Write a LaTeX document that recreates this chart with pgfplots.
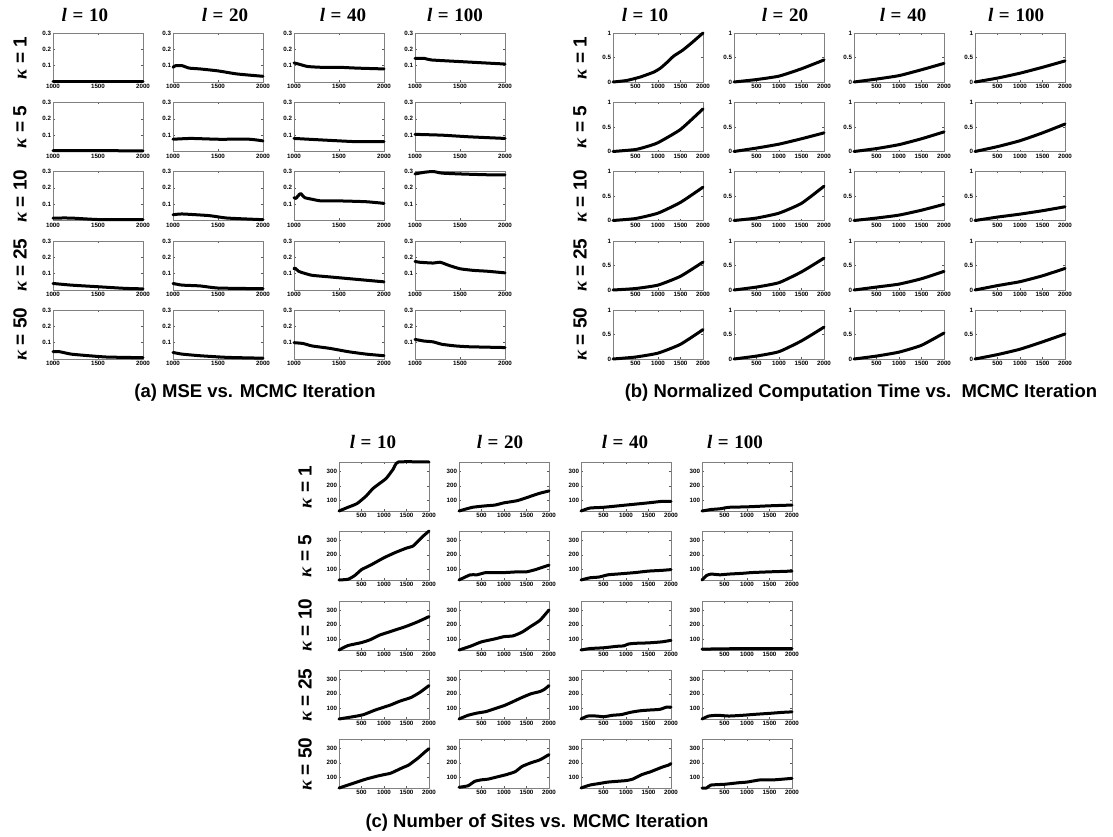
\documentclass[border=0pt]{standalone}
\usepackage{fontspec}
\setmainfont{Liberation Sans}
\newfontfamily\serif{Liberation Serif}
\usepackage{pgfplots}
\pgfplotsset{compat=1.18}
\pgfplotsset{
  base/.style={anchor=north west, scale only axis, width=90pt, height=49pt, clip=false,
    axis line style={gray, line width=0.5pt}, tick style={gray!70!black, line width=0.4pt},
    tick align=inside, major tick length=2pt,
    xtick pos=both, ytick pos=both, xticklabel pos=lower, yticklabel pos=left,
    ticklabel style={font=\fontsize{6.2}{6.5}\selectfont\bfseries},
    /pgf/number format/assume math mode=true,
    xticklabel style={yshift=1pt}, yticklabel style={xshift=1.5pt}},
  pa/.style={base, xmin=1000, xmax=2000, ymin=0, ymax=0.3,
    xtick={1000,1500,2000}, xticklabels={1000,1500,2000},
    ytick={0.1,0.2,0.3}, yticklabels={0.1,0.2,0.3}},
  pb/.style={base, xmin=0, xmax=2000, ymin=0, ymax=1,
    xtick={500,1000,1500,2000}, xticklabels={500,1000,1500,2000},
    ytick={0,0.5,1}, yticklabels={0,0.5,1}},
  pc/.style={base, xmin=0, xmax=2000, ymin=30, ymax=360,
    xtick={500,1000,1500,2000}, xticklabels={500,1000,1500,2000},
    ytick={100,200,300}, yticklabels={100,200,300}},
  curve/.style={black, line width=3pt, line join=round, line cap=round, smooth, tension=0.3, mark=none}
}
\newcommand{\SP}[4]{\begin{axis}[#1, at={(#2pt,-#3pt)}]\addplot[curve] coordinates {#4};\end{axis}}
\newcommand{\coltitle}[3]{\node at (#1pt,-#2pt) {\fontsize{19}{19}\selectfont\serif\bfseries{\itshape l}\hspace{0.3em}=\hspace{0.3em}#3};}
\newcommand{\rowlabel}[3]{\node[rotate=90] at (#1pt,-#2pt) {\fontsize{19}{19}\selectfont\bfseries{\serif\itshape κ} = #3};}
\begin{document}
\begin{tikzpicture}
\useasboundingbox (0,0) rectangle (1113pt,-837pt);
% ---------- titles ----------
\coltitle{85}{15}{10}\coltitle{225}{15}{20}\coltitle{343}{15}{40}\coltitle{455}{15}{100}
\coltitle{645}{15}{10}\coltitle{785}{15}{20}\coltitle{903}{15}{40}\coltitle{1016}{15}{100}
\coltitle{373}{442}{10}\coltitle{500}{442}{20}\coltitle{625}{442}{40}\coltitle{735}{442}{100}
\rowlabel{20}{58}{1}\rowlabel{20}{127}{5}\rowlabel{20}{196}{10}\rowlabel{20}{265}{25}\rowlabel{20}{334}{50}
\rowlabel{580}{58}{1}\rowlabel{580}{127}{5}\rowlabel{580}{196}{10}\rowlabel{580}{265}{25}\rowlabel{580}{334}{50}
\rowlabel{305}{487}{1}\rowlabel{305}{556}{5}\rowlabel{305}{625}{10}\rowlabel{305}{695}{25}\rowlabel{305}{764}{50}
\node at (255pt,-393pt) {\fontsize{18.5}{19}\selectfont\bfseries (a) MSE vs. MCMC Iteration};
\node at (861pt,-393pt) {\fontsize{18.5}{19}\selectfont\bfseries (b) Normalized Computation Time vs.\ \ MCMC Iteration};
\node at (537pt,-823pt) {\fontsize{18.5}{19}\selectfont\bfseries (c) Number of Sites vs. MCMC Iteration};
% ---------- (a) MSE ----------
\SP{pa}{53}{33}{(1000,0.005)(1500,0.005)(2000,0.005)}
\SP{pa}{173}{33}{(1000,0.09)(1030,0.1)(1100,0.1)(1180,0.085)(1300,0.08)(1500,0.068)(1700,0.05)(1850,0.042)(2000,0.035)}
\SP{pa}{294}{33}{(1000,0.117)(1050,0.11)(1150,0.095)(1300,0.09)(1500,0.09)(1700,0.085)(2000,0.08)}
\SP{pa}{415}{33}{(1000,0.145)(1100,0.145)(1180,0.135)(1500,0.125)(2000,0.11)}
\SP{pa}{53}{102.5}{(1000,0.005)(1500,0.005)(2000,0.004)}
\SP{pa}{173}{102.5}{(1000,0.075)(1200,0.08)(1500,0.075)(1850,0.075)(2000,0.065)}
\SP{pa}{294}{102.5}{(1000,0.08)(1400,0.068)(1700,0.06)(2000,0.06)}
\SP{pa}{415}{102.5}{(1000,0.105)(1300,0.1)(1600,0.09)(2000,0.08)}
\SP{pa}{53}{171.5}{(1000,0.015)(1200,0.015)(1500,0.006)(2000,0.005)}
\SP{pa}{173}{171.5}{(1000,0.035)(1100,0.04)(1400,0.03)(1600,0.015)(2000,0.005)}
\SP{pa}{294}{171.5}{(1000,0.14)(1020,0.135)(1060,0.16)(1075,0.165)(1120,0.14)(1200,0.13)(1300,0.12)(1500,0.12)(1800,0.115)(2000,0.105)}
\SP{pa}{415}{171.5}{(1000,0.285)(1100,0.295)(1200,0.3)(1300,0.29)(1500,0.285)(1800,0.28)(2000,0.28)}
\SP{pa}{53}{241}{(1000,0.04)(1200,0.03)(1500,0.02)(1800,0.01)(2000,0.007)}
\SP{pa}{173}{241}{(1000,0.04)(1100,0.03)(1300,0.025)(1500,0.012)(2000,0.008)}
\SP{pa}{294}{241}{(1000,0.13)(1010,0.135)(1050,0.115)(1100,0.105)(1200,0.09)(1400,0.08)(1600,0.07)(1800,0.06)(2000,0.05)}
\SP{pa}{415}{241}{(1000,0.175)(1050,0.17)(1200,0.165)(1280,0.17)(1380,0.15)(1500,0.13)(1650,0.12)(1800,0.115)(2000,0.105)}
\SP{pa}{53}{310}{(1000,0.045)(1070,0.045)(1200,0.03)(1400,0.02)(1600,0.012)(2000,0.008)}
\SP{pa}{173}{310}{(1000,0.04)(1100,0.03)(1300,0.02)(1600,0.01)(2000,0.005)}
\SP{pa}{294}{310}{(1000,0.1)(1100,0.095)(1200,0.08)(1400,0.065)(1600,0.045)(1800,0.03)(2000,0.02)}
\SP{pa}{415}{310}{(1000,0.12)(1100,0.11)(1200,0.105)(1300,0.09)(1450,0.08)(1600,0.075)(2000,0.07)}
% ---------- (b) time ----------
\SP{pb}{613}{33}{(0,0)(300,0.03)(600,0.1)(900,0.2)(1050,0.28)(1200,0.4)(1350,0.53)(1550,0.65)(1750,0.8)(2000,1.0)}
\SP{pb}{734}{33}{(0,0)(500,0.05)(1000,0.12)(1500,0.27)(2000,0.45)}
\SP{pb}{854}{33}{(0,0)(500,0.06)(1000,0.13)(1500,0.25)(2000,0.38)}
\SP{pb}{975}{33}{(0,0)(500,0.08)(1000,0.18)(1500,0.3)(2000,0.43)}
\SP{pb}{613}{102.5}{(0,0)(500,0.04)(750,0.1)(1000,0.18)(1500,0.45)(2000,0.87)}
\SP{pb}{734}{102.5}{(0,0)(500,0.07)(1000,0.15)(1500,0.26)(2000,0.38)}
\SP{pb}{854}{102.5}{(0,0)(500,0.06)(1000,0.14)(1500,0.26)(2000,0.4)}
\SP{pb}{975}{102.5}{(0,0)(500,0.1)(1000,0.22)(1500,0.38)(2000,0.56)}
\SP{pb}{613}{171.5}{(0,0)(500,0.04)(1000,0.15)(1500,0.37)(2000,0.68)}
\SP{pb}{734}{171.5}{(0,0)(500,0.05)(1000,0.15)(1500,0.35)(2000,0.7)}
\SP{pb}{854}{171.5}{(0,0)(500,0.05)(1000,0.11)(1500,0.21)(2000,0.33)}
\SP{pb}{975}{171.5}{(0,0)(500,0.07)(1000,0.13)(1500,0.2)(2000,0.28)}
\SP{pb}{613}{241}{(0,0)(500,0.03)(1000,0.1)(1500,0.28)(2000,0.57)}
\SP{pb}{734}{241}{(0,0)(500,0.06)(1000,0.15)(1500,0.37)(2000,0.65)}
\SP{pb}{854}{241}{(0,0)(500,0.06)(1000,0.12)(1500,0.23)(2000,0.38)}
\SP{pb}{975}{241}{(0,0)(500,0.09)(1000,0.17)(1500,0.29)(2000,0.44)}
\SP{pb}{613}{310}{(0,0)(500,0.04)(1000,0.12)(1500,0.3)(2000,0.6)}
\SP{pb}{734}{310}{(0,0)(500,0.06)(1000,0.15)(1500,0.37)(2000,0.65)}
\SP{pb}{854}{310}{(0,0)(500,0.06)(1000,0.14)(1500,0.28)(2000,0.53)}
\SP{pb}{975}{310}{(0,0)(500,0.09)(1000,0.2)(1500,0.35)(2000,0.51)}
% ---------- (c) sites ----------
\SP{pc}{339}{462}{(0,30)(200,55)(400,80)(600,130)(750,180)(900,215)(1050,250)(1200,310)(1320,360)(2000,360)}
\SP{pc}{459}{462}{(0,30)(300,55)(600,65)(800,70)(1000,85)(1300,100)(1600,130)(1800,150)(2000,165)}
\SP{pc}{581}{462}{(0,30)(200,50)(500,55)(1000,70)(1500,85)(1800,95)(2000,95)}
\SP{pc}{702}{462}{(0,30)(200,40)(400,45)(600,55)(1000,58)(1500,65)(2000,70)}
\SP{pc}{339}{531}{(0,30)(200,35)(350,60)(500,100)(700,130)(1000,180)(1250,215)(1500,245)(1650,260)(1850,320)(2000,360)}
\SP{pc}{459}{531}{(0,30)(250,65)(400,65)(600,80)(1000,80)(1300,85)(1500,85)(1700,100)(1950,125)(2000,130)}
\SP{pc}{581}{531}{(0,30)(200,45)(400,50)(600,65)(800,70)(1200,80)(1500,90)(1800,95)(2000,100)}
\SP{pc}{702}{531}{(0,30)(100,60)(200,70)(400,65)(600,70)(900,75)(1100,80)(1500,85)(2000,90)}
\SP{pc}{339}{601}{(0,30)(200,60)(500,80)(700,100)(900,130)(1100,150)(1200,160)(1500,190)(1750,220)(2000,255)}
\SP{pc}{459}{601}{(0,30)(250,55)(500,85)(800,105)(1000,120)(1200,125)(1400,150)(1600,190)(1800,230)(2000,300)}
\SP{pc}{581}{601}{(0,30)(200,40)(500,45)(800,55)(950,58)(1050,70)(1200,75)(1500,78)(1800,85)(2000,95)}
\SP{pc}{702}{601}{(0,36)(500,38)(1000,40)(1500,40)(2000,40)}
\SP{pc}{339}{670}{(0,30)(200,40)(400,50)(550,60)(800,90)(1000,110)(1150,125)(1350,150)(1600,175)(1800,210)(2000,255)}
\SP{pc}{459}{670}{(0,30)(200,55)(400,70)(600,80)(800,100)(1000,120)(1150,140)(1400,175)(1600,200)(1800,215)(1900,230)(2000,255)}
\SP{pc}{581}{670}{(0,30)(150,50)(350,50)(500,45)(700,55)(900,60)(1100,75)(1300,85)(1500,90)(1750,95)(1900,110)(2000,110)}
\SP{pc}{702}{670}{(0,30)(150,50)(350,55)(600,50)(900,55)(1200,62)(1500,68)(1800,75)(2000,78)}
\SP{pc}{339}{739}{(0,30)(200,50)(400,70)(600,90)(850,110)(1000,120)(1150,130)(1400,165)(1550,185)(1750,230)(1900,270)(2000,295)}
\SP{pc}{459}{739}{(0,35)(200,45)(350,75)(500,85)(650,90)(850,105)(1050,120)(1250,140)(1400,175)(1600,200)(1800,220)(2000,255)}
\SP{pc}{581}{739}{(0,30)(200,50)(400,60)(600,70)(800,75)(1000,80)(1150,90)(1350,120)(1550,140)(1800,170)(1950,185)(2000,195)}
\SP{pc}{702}{739}{(0,30)(100,30)(200,50)(500,55)(800,65)(1000,70)(1300,85)(1600,85)(2000,95)}
\end{tikzpicture}
\end{document}
